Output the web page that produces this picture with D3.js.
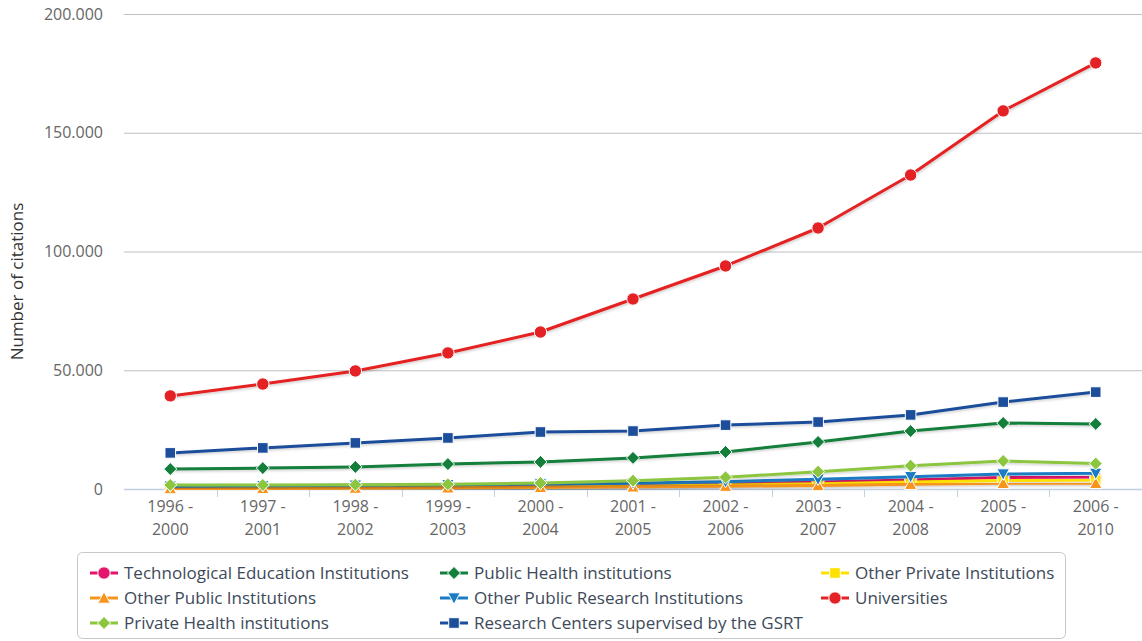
<!DOCTYPE html>
<html>
<head>
<meta charset="utf-8">
<script src="https://cdn.jsdelivr.net/npm/d3@7"></script>
<style>
  html, body { margin: 0; padding: 0; background: #ffffff; }
  svg { display: block; font-family: "Open Sans", "Noto Sans", sans-serif; }
</style>
</head>
<body>
<svg id="chart" width="1142" height="641"></svg>
<script>
// Five-year citation windows
const periods = [
  ["1996 -", "2000"], ["1997 -", "2001"], ["1998 -", "2002"], ["1999 -", "2003"],
  ["2000 -", "2004"], ["2001 -", "2005"], ["2002 -", "2006"], ["2003 -", "2007"],
  ["2004 -", "2008"], ["2005 -", "2009"], ["2006 -", "2010"]
];
const periodKeys = periods.map(p => p.join(" "));

// Citations per institution type
const seriesNames = [
  "Technological Education Institutions",
  "Public Health institutions",
  "Other Private Institutions",
  "Other Public Institutions",
  "Other Public Research Institutions",
  "Universities",
  "Private Health institutions",
  "Research Centers supervised by the GSRT"
];
const techEducation   = [400, 500, 600, 800, 1000, 1500, 2200, 3000, 3800, 4800, 5000];
const publicHealth    = [8400, 8800, 9300, 10500, 11400, 13100, 15600, 19800, 24400, 27800, 27400];
const otherPrivate    = [300, 400, 500, 600, 800, 1200, 1700, 2200, 2900, 3600, 3800];
const otherPublic     = [200, 300, 400, 500, 700, 900, 1200, 1500, 2000, 2400, 2400];
const otherPublicRes  = [1200, 1400, 1600, 1800, 2100, 2400, 3100, 4100, 5200, 6300, 6600];
const universities    = [39200, 44200, 49700, 57300, 66100, 80000, 93900, 109900, 132200, 159200, 179400];
const privateHealth   = [1700, 1700, 1800, 2000, 2500, 3500, 4900, 7300, 9800, 11800, 10700];
const gsrtCenters     = [15200, 17300, 19400, 21500, 24000, 24400, 26900, 28200, 31200, 36600, 40800];

const yTicks = [0, 50000, 100000, 150000, 200000];
const yTitle = "Number of citations";

const seriesValues = [techEducation, publicHealth, otherPrivate, otherPublic,
                      otherPublicRes, universities, privateHealth, gsrtCenters];
const seriesColors = ["#e5156b", "#137f3b", "#ffe100", "#f7941d",
                      "#1b7cc3", "#e42124", "#8cc63f", "#1d4e9b"];
const seriesSymbols = ["circle", "diamond", "square", "triangle",
                       "triangleDown", "circle", "diamond", "square"];

const series = seriesNames.map((name, i) => ({
  name, color: seriesColors[i], symbol: seriesSymbols[i], values: seriesValues[i]
}));

const svg = d3.select("#chart");
const margin = { left: 124, right: 0, top: 14, bottom: 152 };
const W = 1142, H = 641;
const plotBottom = H - margin.bottom; // 489

const x = d3.scaleBand().domain(periodKeys).range([margin.left, W - margin.right]);
const y = d3.scaleLinear().domain([0, 200000]).range([plotBottom, margin.top]);

const locale = d3.formatLocale({ decimal: ",", thousands: ".", grouping: [3], currency: ["", "€"] });
const fmt = locale.format(",d");

// Shadow under the lines
const defs = svg.append("defs");
const f = defs.append("filter").attr("id", "shadow")
  .attr("x", "-5%").attr("y", "-5%").attr("width", "110%").attr("height", "120%");
f.append("feDropShadow").attr("dx", 1).attr("dy", 1.5).attr("stdDeviation", 1)
  .attr("flood-color", "#000").attr("flood-opacity", 0.18);

// Horizontal grid
svg.append("g").selectAll("line").data(yTicks.filter(d => d > 0)).join("line")
  .attr("x1", margin.left).attr("x2", W)
  .attr("y1", d => y(d) + 0.5).attr("y2", d => y(d) + 0.5)
  .attr("stroke", "#c0c0c0").attr("stroke-width", 1);

// Y axis labels
const yAxis = d3.axisLeft(y).tickValues(yTicks).tickFormat(fmt).tickSize(0).tickPadding(0);
const gy = svg.append("g").attr("transform", `translate(${margin.left - 21},0)`).call(yAxis);
gy.select(".domain").remove();
gy.attr("font-size", null).attr("font-family", null);
gy.selectAll("text").attr("fill", "#666").style("font-size", "16px")
  .style("font-family", "'Open Sans', sans-serif");

// Y axis title
svg.append("text")
  .attr("transform", `translate(23,${(margin.top + plotBottom) / 2 + 30}) rotate(-90)`)
  .attr("text-anchor", "middle")
  .attr("fill", "#333").style("font-size", "17px")
  .text(yTitle);

// X axis: baseline, tick marks at band edges, two-line labels
const gx = svg.append("g");
gx.append("line").attr("x1", margin.left).attr("x2", W)
  .attr("y1", plotBottom + 0.5).attr("y2", plotBottom + 0.5)
  .attr("stroke", "#c0d0e0").attr("stroke-width", 1.5);
const edges = periodKeys.slice(1).map(k => x(k));
gx.selectAll("line.tick").data(edges).join("line").attr("class", "tick")
  .attr("x1", d => Math.round(d) + 0.5).attr("x2", d => Math.round(d) + 0.5)
  .attr("y1", plotBottom).attr("y2", plotBottom + 8)
  .attr("stroke", "#c0d0e0").attr("stroke-width", 1);
const lbl = gx.selectAll("text").data(periods).join("text")
  .attr("x", (d, i) => x(periodKeys[i]) + x.bandwidth() / 2)
  .attr("text-anchor", "middle").attr("fill", "#666").style("font-size", "16px");
lbl.append("tspan").attr("x", (d, i) => x(periodKeys[i]) + x.bandwidth() / 2)
  .attr("y", 512).text(d => d[0]);
lbl.append("tspan").attr("x", (d, i) => x(periodKeys[i]) + x.bandwidth() / 2)
  .attr("y", 535).text(d => d[1]);

// Marker shapes
function symbolPath(type, size) {
  const s = size;
  switch (type) {
    case "circle": return d3.symbol(d3.symbolCircle, Math.PI * s * s)();
    case "square": return `M${-s},${-s}H${s}V${s}H${-s}Z`;
    case "diamond": return `M0,${-s * 1.3}L${s * 1.3},0L0,${s * 1.3}L${-s * 1.3},0Z`;
    case "triangle": return `M0,${-s * 1.2}L${s * 1.2},${s}L${-s * 1.2},${s}Z`;
    case "triangleDown": return `M0,${s * 1.2}L${s * 1.2},${-s}L${-s * 1.2},${-s}Z`;
  }
}
const markerSize = { circle: 6.2, square: 5.3, diamond: 5, triangle: 5.2, triangleDown: 5.2 };

const line = d3.line().x((d, i) => x(periodKeys[i]) + x.bandwidth() / 2).y(d => y(d));

const gSeries = svg.append("g").selectAll("g").data(series).join("g");
gSeries.append("path")
  .attr("d", d => line(d.values))
  .attr("fill", "none").attr("stroke", d => d.color).attr("stroke-width", 3)
  .attr("stroke-linejoin", "round").attr("filter", "url(#shadow)");
gSeries.each(function (s) {
  d3.select(this).selectAll("path.m").data(s.values).join("path").attr("class", "m")
    .attr("transform", (d, i) => `translate(${x(periodKeys[i]) + x.bandwidth() / 2},${y(d)})`)
    .attr("d", symbolPath(s.symbol, markerSize[s.symbol]))
    .attr("fill", s.color).attr("stroke", "#ffffff").attr("stroke-width", 1);
});

// Legend
const legend = svg.append("g");
legend.append("rect").attr("x", 77.5).attr("y", 552.5).attr("width", 988).attr("height", 86)
  .attr("rx", 5).attr("fill", "#fff").attr("stroke", "#c8c8c8").attr("stroke-width", 1);
const colX = [90, 440, 821];
const rowY = [573, 598, 623];
series.forEach((s, i) => {
  const cx = colX[i % 3], cy = rowY[Math.floor(i / 3)];
  const g = legend.append("g").attr("transform", `translate(${cx},${cy})`);
  g.append("line").attr("x1", 0).attr("x2", 28).attr("y1", 0).attr("y2", 0)
    .attr("stroke", s.color).attr("stroke-width", 3);
  g.append("path").attr("transform", "translate(14,0)")
    .attr("d", symbolPath(s.symbol, markerSize[s.symbol]))
    .attr("fill", s.color).attr("stroke", "#fff").attr("stroke-width", 1);
  g.append("text").attr("x", 34).attr("y", 6).attr("fill", "#3d4a5a")
    .style("font-size", "17px").text(s.name);
});
</script>
</body>
</html>
